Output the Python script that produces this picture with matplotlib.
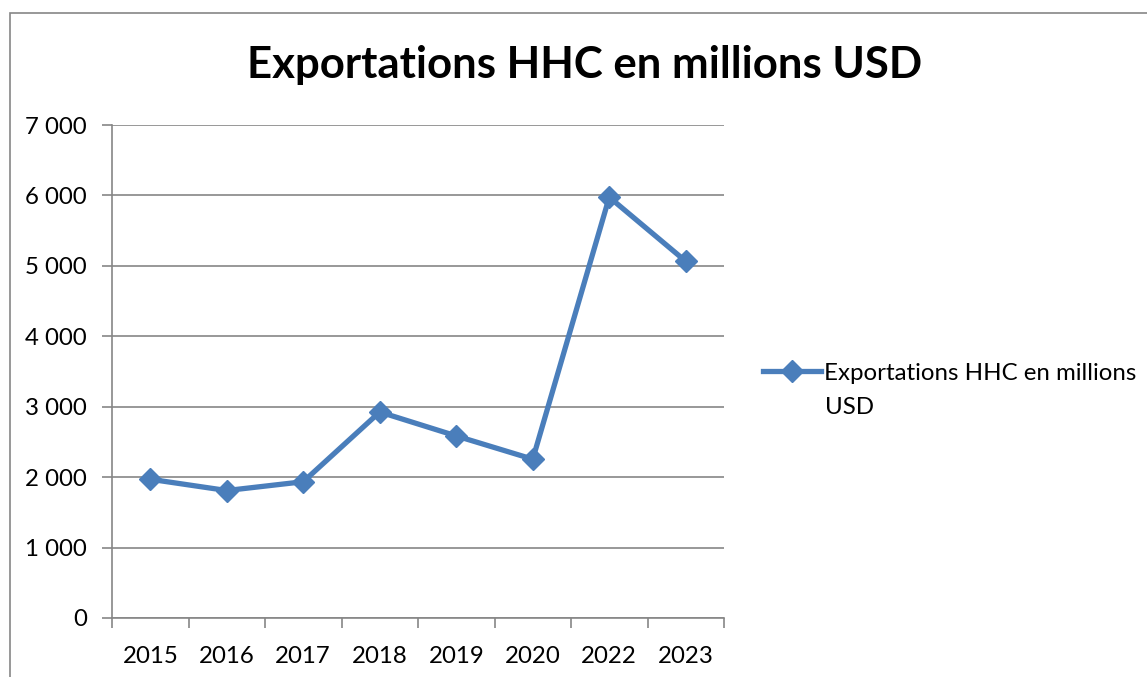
import matplotlib
matplotlib.use("Agg")
import matplotlib.pyplot as plt
from matplotlib.patches import Rectangle
from matplotlib.lines import Line2D
import numpy as np

years = ["2015", "2016", "2017", "2018", "2019", "2020", "2022", "2023"]
exports = [1970, 1810, 1935, 2925, 2585, 2255, 5975, 5065]
series_label = "Exportations HHC en millions USD"
title = "Exportations HHC en millions USD"

plt.rcParams['font.family'] = ['Lato', 'DejaVu Sans']

W, H = 1147, 677
fig = plt.figure(figsize=(W / 100, H / 100), dpi=100)
fig.patch.set_facecolor("white")

# outer chart border
fig.patches.append(Rectangle((10 / W, -0.1), 1.2, (H - 13) / H + 0.1, transform=fig.transFigure,
                             fill=False, edgecolor="#868686", linewidth=1.2))

ax = fig.add_axes([112 / W, 59 / H, 612 / W, 493 / H])
color = "#4A7EBB"
x = np.arange(len(years))
ax.plot(x, exports, color=color, linewidth=3.8, marker="D", markersize=11,
        markerfacecolor=color, markeredgecolor=color, solid_joinstyle="round",
        solid_capstyle="round")

ax.set_xlim(-0.5, len(years) - 0.5)
ax.set_ylim(0, 7000)
ax.set_yticks(np.arange(0, 7001, 1000))
ax.set_yticklabels([f"{v:,}".replace(",", " ") for v in range(0, 7001, 1000)])
ax.yaxis.grid(True, color="#868686", linewidth=1.2)
ax.set_axisbelow(True)

ax.set_xticks(np.arange(-0.5, len(years), 1.0))
ax.set_xticklabels([])
ax.set_xticks(x, minor=True)
ax.set_xticklabels(years, minor=True)
ax.tick_params(axis="x", which="major", length=7, width=1.2, color="#868686", direction="out")
ax.tick_params(axis="x", which="minor", length=0, pad=20, labelsize=17.3)
ax.tick_params(axis="y", length=7, width=1.2, color="#868686", pad=11, labelsize=17.3)

for s in ["top", "right"]:
    ax.spines[s].set_visible(False)
for s in ["left", "bottom"]:
    ax.spines[s].set_color("#868686")
    ax.spines[s].set_linewidth(1.2)

fig.text(585 / W, 1 - 65 / H, title, ha="center", va="center", fontsize=31.5, fontweight="bold")

handle = Line2D([], [], color=color, linewidth=3.8, marker="D", markersize=11)
leg = fig.legend([handle], ["Exportations HHC en millions"], loc="center left",
                 bbox_to_anchor=(763 / W, 1 - 373 / H), frameon=False, fontsize=17.3,
                 handlelength=2.4, handletextpad=0.15, borderaxespad=0, borderpad=0)
fig.text(825 / W, 1 - 408 / H, "USD", ha="left", va="center", fontsize=17.3)

fig.savefig("out.png", dpi=100, facecolor="white")
